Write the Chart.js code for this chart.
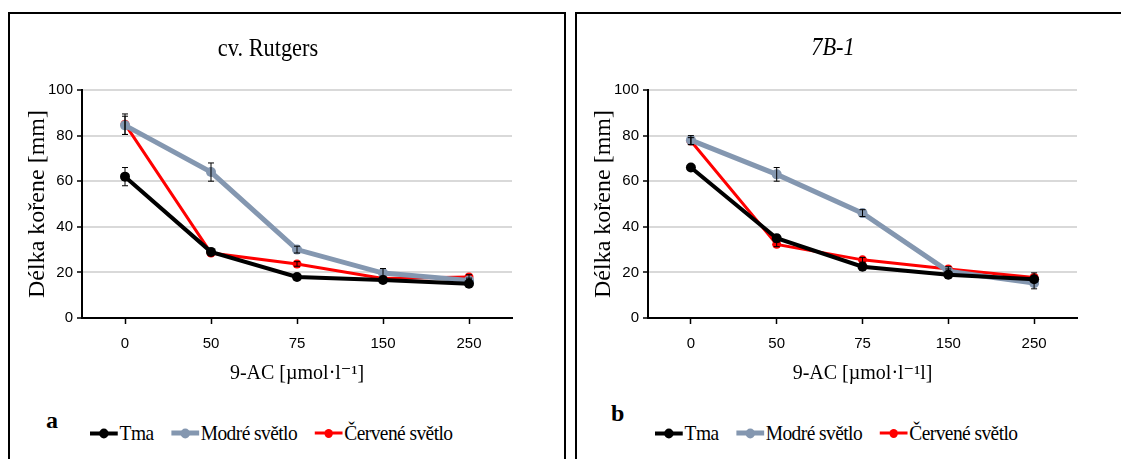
<!DOCTYPE html>
<html>
<head>
<meta charset="utf-8">
<script src="https://cdn.jsdelivr.net/npm/chart.js@4/dist/chart.umd.min.js"></script>
<style>
  body { margin: 0; background: #fff; width: 1121px; height: 459px; overflow: hidden; position: relative; font-family: "Liberation Serif", "Times New Roman", Tinos, "DejaVu Serif", serif; }
  .panel { position: absolute; top: 12px; height: 470px; border: 2px solid #000; border-bottom: none; box-sizing: border-box; }
  canvas { position: absolute; top: 14px; }
  .title { position: absolute; font-size: 26px; transform: translate(-50%, -50%) scaleX(0.86); white-space: nowrap; }
  .letter { position: absolute; font-size: 24px; font-weight: bold; transform: translateY(-50%); }
  .legend { position: absolute; top: 433px; transform: translateY(-50%) scaleX(0.925); transform-origin: left center; display: flex; align-items: center; font-size: 21px; white-space: nowrap; }
  .legend .item { display: flex; align-items: center; margin-right: 19px; letter-spacing: -0.6px; }
  .legend .sw { position: relative; width: 30px; margin-right: 2px; }
  .legend .sw i { position: absolute; left: 50%; top: 50%; border-radius: 50%; transform: translate(-50%, -50%); }
</style>
</head>
<body>
<div class="panel" style="left:8px;width:558px"></div>
<div class="panel" style="left:575px;width:560px"></div>

<canvas id="chartA" width="553" height="380" style="left:10px"></canvas>
<canvas id="chartB" width="553" height="380" style="left:577px"></canvas>

<div class="title" style="left:268px;top:48px">cv. Rutgers</div>
<div class="title" style="left:833px;top:47px;font-style:italic">7B-1</div>
<div class="letter" style="left:46px;top:420px">a</div>
<div class="letter" style="left:611px;top:413px">b</div>
<div class="legend" id="legA" style="left:90px"></div>
<div class="legend" id="legB" style="left:655px"></div>

<script>
const categories = ['0', '50', '75', '150', '250'];
const seriesNames = ['Tma', 'Modré světlo', 'Červené světlo'];
const colors = ['#000000', '#8497B0', '#FF0000'];
const yTicks = [0, 20, 40, 60, 80, 100];

// cv. Rutgers
const rutgersTma = [62, 29, 18, 16.7, 15];
const rutgersModre = [84.5, 64, 30, 19.7, 16.5];
const rutgersCervene = [85, 28.5, 23.7, 17.3, 18];
const rutgersTmaErr = [4, 1.5, 1.5, 1, 1];
const rutgersModreErr = [4, 4, 1.5, 2, 1];
const rutgersCerveneErr = [4.5, 1, 1, 1, 1];

// 7B-1
const b71Tma = [66, 35, 22.5, 19, 17];
const b71Modre = [78, 63, 46, 20.5, 15.3];
const b71Cervene = [77.6, 32.3, 25.5, 21.5, 17.8];
const b71TmaErr = [1, 1.5, 1, 1, 1];
const b71ModreErr = [2, 3, 1.5, 1, 2.5];
const b71CerveneErr = [1.5, 1, 1, 1, 2];

const lineWidths = [4, 5, 3];
const pointRadii = [5, 5, 4.5];

const serif = '"Liberation Serif", "Times New Roman", Tinos, "DejaVu Serif", serif';
const narrow = '"Liberation Sans Narrow", "Arial Narrow", "Liberation Sans", sans-serif';

const errorBars = {
  id: 'errorBars',
  afterDatasetsDraw(chart) {
    const ctx = chart.ctx;
    const x = chart.scales.x, y = chart.scales.y;
    ctx.save();
    ctx.strokeStyle = '#000';
    ctx.lineWidth = 1;
    chart.data.datasets.forEach(ds => {
      ds.data.forEach((v, i) => {
        const e = ds.errors[i];
        const px = x.getPixelForValue(i);
        const top = y.getPixelForValue(v + e), bot = y.getPixelForValue(v - e);
        ctx.beginPath();
        ctx.moveTo(px, top); ctx.lineTo(px, bot);
        ctx.moveTo(px - 3, top); ctx.lineTo(px + 3, top);
        ctx.moveTo(px - 3, bot); ctx.lineTo(px + 3, bot);
        ctx.stroke();
      });
    });
    ctx.restore();
  }
};

function makeChart(id, values, errors, xTitle, padLeft, padRight) {
  return new Chart(document.getElementById(id), {
    type: 'line',
    data: {
      labels: categories,
      datasets: values.map((v, i) => ({
        label: seriesNames[i],
        data: v,
        errors: errors[i],
        borderColor: colors[i],
        backgroundColor: colors[i],
        borderWidth: lineWidths[i],
        pointRadius: pointRadii[i],
        pointBorderWidth: 0,
        tension: 0
      }))
    },
    options: {
      responsive: false,
      animation: false,
      layout: { padding: { left: padLeft, right: padRight, top: 76, bottom: 6 } },
      plugins: { legend: { display: false }, tooltip: { enabled: false } },
      scales: {
        x: {
          offset: true,
          grid: { offset: false, drawOnChartArea: false, tickLength: 6, tickColor: '#000', tickWidth: 1.5 },
          border: { color: '#000', width: 2 },
          ticks: { padding: 11, color: '#000', font: { family: narrow, size: 15 } },
          title: { display: true, text: xTitle, color: '#000', padding: { top: 4, bottom: 2 },
                   font: { family: serif, size: 20 } },
          afterFit(s) { s.height = 70; }
        },
        y: {
          min: 0, max: 100,
          afterBuildTicks(s) { s.ticks = yTicks.map(v => ({ value: v })); },
          grid: { color: '#d9d9d9', lineWidth: 2, tickColor: '#000', tickLength: 5, tickWidth: 1.5 },
          border: { color: '#000', width: 2 },
          ticks: { padding: 4, color: '#000', font: { family: narrow, size: 15 } },
          title: { display: true, text: 'Délka kořene [mm]', color: '#000', padding: { top: 1, bottom: 2 },
                   font: { family: serif, size: 24 } },
          afterFit(s) { s.width = 60; }
        }
      }
    },
    plugins: [errorBars]
  });
}

makeChart('chartA', [rutgersTma, rutgersModre, rutgersCervene],
  [rutgersTmaErr, rutgersModreErr, rutgersCerveneErr], '9-AC [µmol·l⁻¹]', 12, 51);
makeChart('chartB', [b71Tma, b71Modre, b71Cervene],
  [b71TmaErr, b71ModreErr, b71CerveneErr], '9-AC [µmol·l⁻¹l]', 11, 53);

function buildLegend(id) {
  const el = document.getElementById(id);
  seriesNames.forEach((name, i) => {
    const item = document.createElement('div');
    item.className = 'item';
    const sw = document.createElement('span');
    sw.className = 'sw';
    sw.style.height = lineWidths[i] + 'px';
    sw.style.background = colors[i];
    const dot = document.createElement('i');
    dot.style.width = dot.style.height = (pointRadii[i] * 2) + 'px';
    dot.style.background = colors[i];
    sw.appendChild(dot);
    item.appendChild(sw);
    item.appendChild(document.createTextNode(name));
    el.appendChild(item);
  });
}
buildLegend('legA');
buildLegend('legB');
</script>
</body>
</html>
